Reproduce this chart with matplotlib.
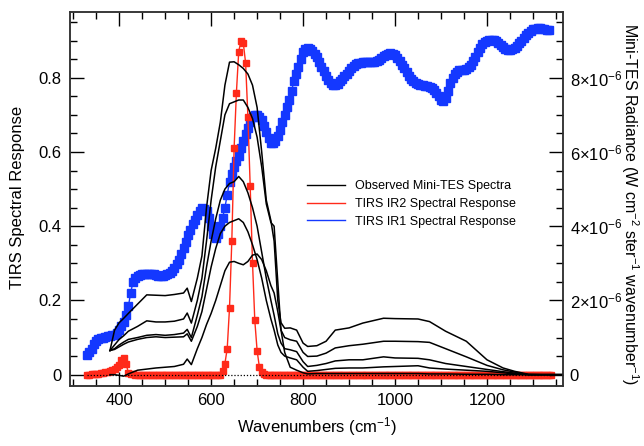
import numpy as np
import matplotlib
matplotlib.use('Agg')
import matplotlib.pyplot as plt
from matplotlib.lines import Line2D
from matplotlib.ticker import MultipleLocator, FuncFormatter

plt.rcParams['font.family'] = ['Liberation Sans', 'DejaVu Sans']
plt.rcParams['mathtext.fontset'] = 'custom'
plt.rcParams['mathtext.rm'] = 'Liberation Sans'
plt.rcParams['mathtext.it'] = 'Liberation Sans:italic'
plt.rcParams['mathtext.bf'] = 'Liberation Sans:bold'

# TIRS IR1 spectral response, sampled every 5 cm-1 from 330 to 1335
ir1_wn = np.arange(330, 1336, 5)
ir1_resp = [0.054, 0.062, 0.07, 0.082, 0.092, 0.096, 0.098, 0.1, 0.102, 0.103,
            0.104, 0.106, 0.108, 0.113, 0.12, 0.13, 0.142, 0.16, 0.184, 0.22,
            0.25, 0.26, 0.265, 0.268, 0.27, 0.271, 0.272, 0.272, 0.272, 0.27,
            0.268, 0.267, 0.266, 0.266, 0.268, 0.271, 0.274, 0.28, 0.288, 0.298,
            0.31, 0.325, 0.34, 0.357, 0.375, 0.39, 0.405, 0.418, 0.43, 0.44,
            0.449, 0.447, 0.44, 0.422, 0.40, 0.38, 0.368, 0.38, 0.40, 0.423,
            0.45, 0.485, 0.52, 0.54, 0.56, 0.575, 0.59, 0.61, 0.63, 0.648,
            0.665, 0.68, 0.695, 0.70, 0.70, 0.695, 0.685, 0.67, 0.655, 0.638,
            0.625, 0.624, 0.63, 0.643, 0.66, 0.68, 0.70, 0.72, 0.74, 0.765,
            0.79, 0.81, 0.83, 0.85, 0.87, 0.877, 0.879, 0.877, 0.872, 0.864,
            0.855, 0.843, 0.83, 0.817, 0.805, 0.794, 0.785, 0.781, 0.78, 0.784,
            0.79, 0.797, 0.805, 0.811, 0.818, 0.825, 0.832, 0.836, 0.84, 0.841,
            0.842, 0.842, 0.842, 0.842, 0.842, 0.843, 0.845, 0.849, 0.853, 0.858,
            0.862, 0.865, 0.866, 0.864, 0.86, 0.853, 0.845, 0.835, 0.825, 0.815,
            0.805, 0.797, 0.79, 0.786, 0.783, 0.781, 0.78, 0.779, 0.778, 0.776,
            0.772, 0.767, 0.76, 0.75, 0.74, 0.736, 0.745, 0.765, 0.785, 0.80,
            0.81, 0.816, 0.82, 0.821, 0.822, 0.824, 0.828, 0.835, 0.845, 0.857,
            0.87, 0.88, 0.89, 0.895, 0.898, 0.901, 0.902, 0.901, 0.898, 0.893,
            0.888, 0.883, 0.878, 0.876, 0.875, 0.877, 0.88, 0.886, 0.893, 0.90,
            0.908, 0.914, 0.92, 0.925, 0.93, 0.932, 0.933, 0.933, 0.932, 0.93,
            0.929, 0.928]

# TIRS IR2 spectral response, every 5 cm-1 from 330 to 1340
ir2_wn = np.arange(330, 1341, 5)
ir2_low_bump = [0.0, 0.0, 0.001, 0.002, 0.002, 0.003, 0.004, 0.005, 0.006, 0.008,
                0.01, 0.013, 0.016, 0.02, 0.025, 0.04, 0.045, 0.03, 0.005, 0.002,
                0.001]                                   # 330..430
ir2_peak = [0.01, 0.03, 0.07, 0.18, 0.36, 0.61, 0.76, 0.87, 0.90, 0.893,
            0.84, 0.695, 0.507, 0.302, 0.146, 0.065, 0.02, 0.008, 0.003]  # 625..715
ir2_resp = ir2_low_bump + [0.0] * 38 + ir2_peak + [0.0] * 125

# Mini-TES spectra, radiance in 1e-6 W cm-2 ster-1 wavenumber-1
tes_wn = [380, 390, 400, 410, 420, 440, 460, 480, 500, 520, 540, 548, 557, 570,
          580, 590, 600, 610, 620, 630, 640, 650, 660, 670, 680, 690, 700, 710,
          720, 730, 737, 745, 752, 760, 772, 786, 800, 810, 830, 850, 870, 900,
          930, 975, 1000, 1050, 1075, 1110, 1155, 1200, 1235, 1260, 1290, 1320,
          1365]
tes_1 = [0.65, 1.2, 1.4, 1.52, 1.65, 1.9, 2.15, 2.14, 2.13, 2.16, 2.2, 2.33,
         1.97, 2.6, 3.2, 4.5, 5.5, 6.1, 6.8, 7.8, 8.42, 8.43, 8.35, 8.25, 8.1,
         7.8, 7.2, 6.0, 4.7, 4.15, 3.6, 2.0, 1.4, 1.25, 1.26, 1.2, 0.85, 0.76,
         0.78, 0.9, 1.2, 1.26, 1.39, 1.52, 1.51, 1.5, 1.43, 1.17, 0.9, 0.4,
         0.18, 0.09, 0.01, 0.0, 0.0]
tes_2 = [0.65, 0.8, 0.95, 1.05, 1.17, 1.3, 1.45, 1.42, 1.42, 1.44, 1.5, 1.66,
         1.39, 2.0, 2.6, 3.6, 4.7, 5.6, 6.3, 7.0, 7.3, 7.35, 7.4, 7.4, 7.2,
         6.9, 6.4, 5.6, 4.6, 4.1, 4.0, 2.5, 1.2, 1.0, 0.94, 0.9, 0.6, 0.49,
         0.5, 0.58, 0.72, 0.78, 0.82, 0.9, 0.9, 0.89, 0.87, 0.7, 0.48, 0.25,
         0.13, 0.07, 0.0, 0.0, 0.0]
tes_3 = [0.65, 0.7, 0.8, 0.88, 0.95, 1.0, 1.06, 1.08, 1.06, 1.08, 1.12, 1.22,
         1.0, 1.6, 2.1, 2.9, 3.6, 4.2, 4.7, 5.0, 5.15, 5.2, 5.34, 5.2, 4.9,
         4.5, 4.0, 3.3, 2.6, 2.0, 1.6, 1.1, 0.85, 0.7, 0.67, 0.62, 0.35, 0.22,
         0.25, 0.3, 0.37, 0.4, 0.4, 0.48, 0.45, 0.44, 0.4, 0.3, 0.22, 0.14,
         0.08, 0.04, 0.0, 0.0, 0.0]
tes_4 = [0.65, 0.68, 0.75, 0.82, 0.88, 0.95, 1.0, 1.02, 1.0, 1.01, 1.02, 1.1,
         0.9, 1.3, 1.7, 2.3, 2.9, 3.4, 3.8, 4.0, 4.1, 4.15, 4.2, 4.1, 3.85,
         3.5, 3.1, 2.6, 2.0, 1.5, 1.2, 0.8, 0.6, 0.5, 0.45, 0.4, 0.2, 0.09,
         0.11, 0.14, 0.17, 0.18, 0.18, 0.21, 0.22, 0.24, 0.18, 0.15, 0.12,
         0.09, 0.05, 0.02, 0.0, 0.0, 0.0]
tes_5 = [0.0, 0.0, -0.02, -0.04, 0.02, 0.12, 0.15, 0.18, 0.2, 0.22, 0.28, 0.42,
         0.27, 0.7, 1.0, 1.35, 1.65, 2.0, 2.4, 2.8, 3.03, 3.05, 3.0, 2.96,
         3.05, 3.22, 3.25, 3.1, 2.8, 2.4, 2.2, 1.7, 1.2, 0.6, 0.2, 0.12, 0.05,
         0.02, 0.03, 0.03, 0.03, 0.03, 0.03, 0.03, 0.03, 0.03, 0.02, 0.02,
         0.01, 0.01, 0.0, 0.0, 0.0, 0.0, 0.0]
tes_spectra = [tes_1, tes_2, tes_3, tes_4, tes_5]

red = '#ff2a1a'
blue = '#1438ff'

fig = plt.figure(figsize=(6.44, 4.46), dpi=100)
ax = fig.add_subplot(111)
fig.subplots_adjust(left=0.109, right=0.874, bottom=0.135, top=0.973)
ax2 = ax.twinx()

ax.plot(ir1_wn, ir1_resp, color=blue, lw=1, marker='s', ms=5.3, mec=blue, zorder=2)
ax.plot(ir2_wn, ir2_resp, color=red, lw=1, marker='s', ms=4.3, mec=red, zorder=3)
ax.hlines(0, ir2_wn[0], ir2_wn[-1], colors='black', linestyles=(0, (1, 1.5)),
          lw=0.9, zorder=4)

for s in tes_spectra:
    ax2.plot(tes_wn, np.array(s) * 1e-6, color='black', lw=1.1)

ax.set_xlim(293.5, 1365)
ax.set_ylim(-0.03, 0.977)
ax2.set_ylim(-0.3e-6, 9.77e-6)

ax.xaxis.set_major_locator(MultipleLocator(200))
ax.xaxis.set_minor_locator(MultipleLocator(50))
ax.yaxis.set_major_locator(MultipleLocator(0.2))
ax.yaxis.set_minor_locator(MultipleLocator(0.05))
ax2.yaxis.set_major_locator(MultipleLocator(2e-6))
ax2.yaxis.set_minor_locator(MultipleLocator(0.5e-6))

ax.yaxis.set_major_formatter(FuncFormatter(lambda v, p: '0' if abs(v) < 1e-9 else f'{v:.1f}'))
ax2.yaxis.set_major_formatter(FuncFormatter(
    lambda v, p: '0' if abs(v) < 1e-12 else r'$%d{\times}10^{-6}$' % round(v * 1e6)))

ax.tick_params(axis='x', which='both', direction='in', top=True, labelsize=12, pad=5)
ax.tick_params(axis='y', which='both', direction='in', right=False, labelsize=12, pad=6)
ax.tick_params(which='major', length=10, width=1)
ax.tick_params(which='minor', length=5, width=1)
ax2.tick_params(axis='y', which='both', direction='in', labelsize=12, pad=5)
ax2.tick_params(which='major', length=10, width=1)
ax2.tick_params(which='minor', length=5, width=1)

for a in (ax, ax2):
    for sp in a.spines.values():
        sp.set_linewidth(1.1)
        sp.set_color('#333333')

ax.set_xlabel(r'Wavenumbers (cm$^{-1}$)', fontsize=12, va='center')
ax.xaxis.set_label_coords(0.5, -0.11)
ax.set_ylabel('TIRS Spectral Response', fontsize=12, va='center')
ax.yaxis.set_label_coords(-0.107, 0.503)
ax2.set_ylabel(r'Mini-TES Radiance (W cm$^{-2}$ ster$^{-1}$ wavenumber$^{-1}$)',
               fontsize=11.5, rotation=270, va='center', ha='center')
ax2.yaxis.set_label_coords(1.136, 0.485)

handles = [Line2D([], [], color='black', lw=1),
           Line2D([], [], color=red, lw=1),
           Line2D([], [], color=blue, lw=1)]
labels = ['Observed Mini-TES Spectra', 'TIRS IR2 Spectral Response',
          'TIRS IR1 Spectral Response']
ax2.legend(handles, labels, loc='upper left', bbox_to_anchor=(0.458, 0.58),
           frameon=False, fontsize=9, handlelength=3.0, handletextpad=0.8,
           labelspacing=0.45)

fig.savefig('out.png', dpi=100)
